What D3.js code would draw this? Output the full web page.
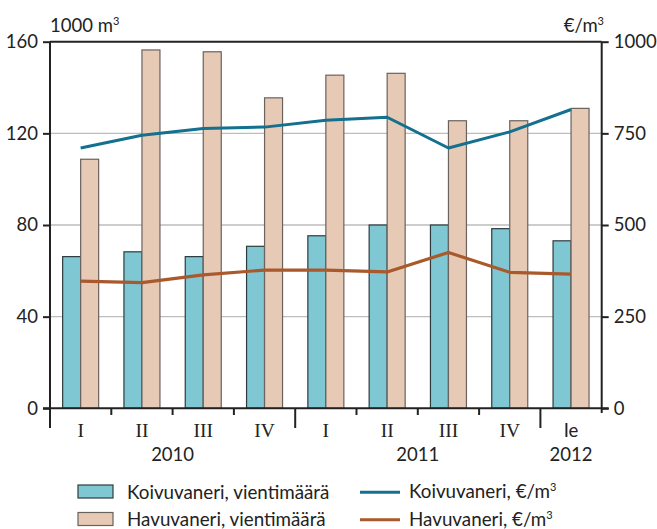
<!DOCTYPE html>
<html><head><meta charset="utf-8">
<script src="https://cdn.jsdelivr.net/npm/d3@7"></script>
<style>
html,body{margin:0;padding:0;background:#fff;}
svg{display:block;}
</style></head>
<body>
<svg id="c" width="657" height="529" font-family="Lato, 'Open Sans', sans-serif"></svg>
<script>
const quarters = ["I","II","III","IV","I","II","III","IV","Ie"];
const years = [{label:"2010", from:0, to:4},{label:"2011", from:4, to:8},{label:"2012", from:8, to:9}];
const koivuVolume = [66.2, 68.3, 66.2, 70.7, 75.3, 80.0, 80.0, 78.4, 73.1];
const havuVolume = [108.7, 156.4, 155.6, 135.5, 145.4, 146.2, 125.5, 125.5, 130.9];
const koivuPrice = [710, 745, 763, 767, 786, 794, 710, 754, 815];
const havuPrice = [347, 343, 364, 377, 377, 372, 425, 371, 366];
const leftTicks = [0, 40, 80, 120, 160];
const rightTicks = [0, 250, 500, 750, 1000];

const svg = d3.select("#c");
const L = 50, R = 601.7, T = 41.7, B = 408.3;
const x = d3.scaleBand().domain(d3.range(quarters.length)).range([L, R]).padding(0);
const yL = d3.scaleLinear().domain([0, 160]).range([B, T]);
const yR = d3.scaleLinear().domain([0, 1000]).range([B, T]);
const barW = 18;
const SANS = "Lato, 'Open Sans', sans-serif";
const SERIF = "'Liberation Serif', 'DejaVu Serif', serif";
const INK = "#222";

// gridlines
svg.append("g").selectAll("line").data(leftTicks.filter(d => d > 0 && d < 160)).join("line")
  .attr("x1", L).attr("x2", R).attr("y1", d => yL(d)).attr("y2", d => yL(d))
  .attr("stroke", "#bdbdbd").attr("stroke-width", 1.3);

// bars
const g = svg.append("g");
g.selectAll("rect.k").data(koivuVolume).join("rect").attr("class","k")
  .attr("x", (d,i) => x(i) + x.bandwidth()/2 - barW)
  .attr("y", d => yL(d)).attr("width", barW).attr("height", d => yL(0) - yL(d))
  .attr("fill", "#7ec7d3").attr("stroke", "#2e3b3e").attr("stroke-width", 1.2);
g.selectAll("rect.h").data(havuVolume).join("rect").attr("class","h")
  .attr("x", (d,i) => x(i) + x.bandwidth()/2)
  .attr("y", d => yL(d)).attr("width", barW).attr("height", d => yL(0) - yL(d))
  .attr("fill", "#e6cab5").attr("stroke", "#6a625d").attr("stroke-width", 1.2);

// lines
const cx = i => x(i) + x.bandwidth()/2;
const line = d3.line().x((d,i) => cx(i)).y(d => yR(d));
svg.append("path").datum(havuPrice).attr("d", line).attr("fill","none")
  .attr("stroke", "#a9592b").attr("stroke-width", 3.2).attr("stroke-linejoin","round");
svg.append("path").datum(koivuPrice).attr("d", line).attr("fill","none")
  .attr("stroke", "#13708f").attr("stroke-width", 3).attr("stroke-linejoin","round");

// frame
const ax = svg.append("g").attr("stroke", INK).attr("stroke-width", 2);
ax.append("line").attr("x1", L).attr("x2", R).attr("y1", T).attr("y2", T);
ax.append("line").attr("x1", L).attr("x2", L).attr("y1", T).attr("y2", 428);
ax.append("line").attr("x1", R).attr("x2", R).attr("y1", T).attr("y2", 413);
ax.append("line").attr("x1", L - 7).attr("x2", R + 7).attr("y1", B).attr("y2", B);

// left axis
const la = svg.append("g").attr("transform", `translate(${L},0)`)
  .call(d3.axisLeft(yL).tickValues(leftTicks).tickFormat(d3.format("d")).tickSize(7).tickPadding(5));
la.select(".domain").remove();
la.selectAll(".tick line").attr("stroke", INK).attr("stroke-width", 2);
la.selectAll(".tick text").attr("font-size", 18.5).attr("font-family", SANS).attr("fill", INK);

// right axis
const ra = svg.append("g").attr("transform", `translate(${R},0)`)
  .call(d3.axisRight(yR).tickValues(rightTicks).tickFormat(d3.format("d")).tickSize(7).tickPadding(5));
ra.select(".domain").remove();
ra.selectAll(".tick line").attr("stroke", INK).attr("stroke-width", 2);
ra.selectAll(".tick text").attr("font-size", 18.5).attr("font-family", SANS).attr("fill", INK);

// x ticks
const bounds = d3.range(1, quarters.length);
const yearBounds = years.map(d => d.to).filter(d => d < quarters.length);
svg.append("g").selectAll("line").data(bounds).join("line")
  .attr("x1", d => x(d)).attr("x2", d => x(d))
  .attr("y1", B).attr("y2", d => yearBounds.includes(d) ? 428 : 415)
  .attr("stroke", INK).attr("stroke-width", 2);

// quarter labels
svg.append("g").selectAll("text").data(quarters).join("text")
  .attr("x", (d,i) => cx(i)).attr("y", 437).attr("text-anchor", "middle")
  .attr("font-size", d => d === "Ie" ? 18.5 : 19.5)
  .attr("font-family", d => d === "Ie" ? SANS : SERIF).attr("fill", INK)
  .text(d => d);

// year labels
svg.append("g").selectAll("text").data(years).join("text")
  .attr("x", d => (x(d.from) + (d.to < quarters.length ? x(d.to) : R)) / 2)
  .attr("y", 461).attr("text-anchor", "middle").attr("font-size", 18.5).attr("fill", INK)
  .text(d => d.label);

// unit labels
const u1 = svg.append("text").attr("x", 50).attr("y", 32).attr("font-size", 18.5).attr("fill", INK);
u1.append("tspan").text("1000 m");
u1.append("tspan").attr("font-size", 11).attr("dy", -7).text("3");
const u2 = svg.append("text").attr("x", 604).attr("y", 32).attr("font-size", 18.5).attr("text-anchor", "end").attr("fill", INK);
u2.append("tspan").text("€/m");
u2.append("tspan").attr("font-size", 11).attr("dy", -7).text("3");

// legend
const legBars = [{label:"Koivuvaneri, vientimäärä", fill:"#7ec7d3", stroke:"#2e3b3e"},
                 {label:"Havuvaneri, vientimäärä", fill:"#e6cab5", stroke:"#6a625d"}];
const legLines = [{label:"Koivuvaneri, €/m", color:"#13708f"},{label:"Havuvaneri, €/m", color:"#a9592b"}];
const lb = svg.append("g").selectAll("g").data(legBars).join("g")
  .attr("transform", (d,i) => `translate(78,${485 + i*27.5})`);
lb.append("rect").attr("width", 35).attr("height", 13).attr("fill", d => d.fill)
  .attr("stroke", d => d.stroke).attr("stroke-width", 1.2);
lb.append("text").attr("x", 49).attr("y", 13.5).attr("font-size", 18.8).attr("fill", INK).text(d => d.label);
const ll = svg.append("g").selectAll("g").data(legLines).join("g")
  .attr("transform", (d,i) => `translate(360,${492.3 + i*27.5})`);
ll.append("line").attr("x1", 0).attr("x2", 40).attr("stroke", d => d.color).attr("stroke-width", 3);
const lt = ll.append("text").attr("x", 49).attr("y", 6).attr("font-size", 18.8).attr("fill", INK);
lt.append("tspan").text(d => d.label);
lt.append("tspan").attr("font-size", 11).attr("dy", -7).text("3");
</script>
</body></html>
